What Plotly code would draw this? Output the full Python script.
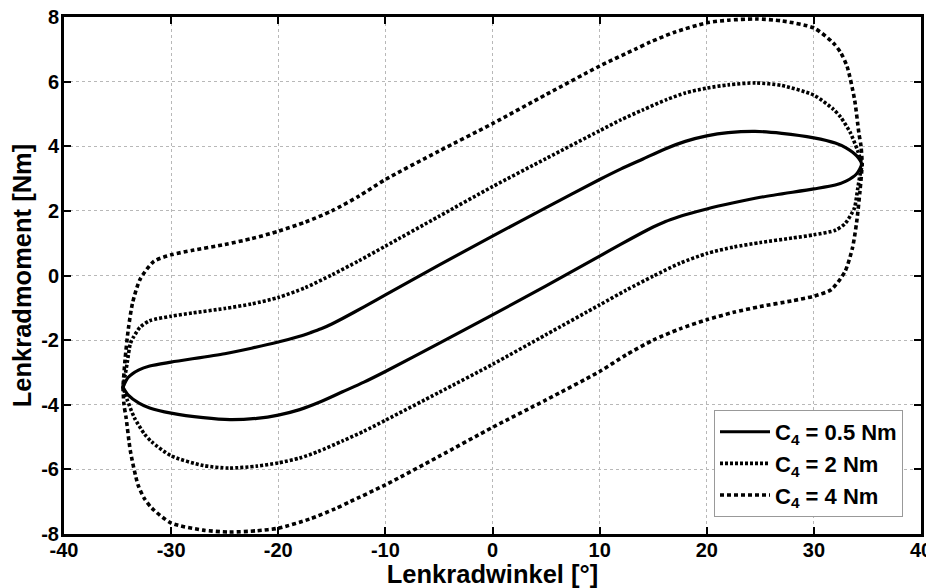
import plotly.graph_objects as go

# C4 = 0.5 Nm : upper branch (right tip -> left tip), lower branch (left tip -> right tip)
c05_up_x = [34.45, 34.0, 33.0, 32.0, 30, 27, 24.5, 22, 20, 18, 16, 14, 12, 10, 5, 0, -5, -10, -12, -14, -15, -16, -17, -18, -20, -22.5, -25, -30, -32, -33, -34, -34.5]
c05_up_y = [3.45, 3.7, 3.95, 4.1, 4.26, 4.4, 4.46, 4.42, 4.32, 4.15, 3.9, 3.6, 3.3, 2.97, 2.1, 1.22, 0.32, -0.6, -0.97, -1.33, -1.5, -1.65, -1.77, -1.88, -2.06, -2.25, -2.42, -2.68, -2.8, -2.92, -3.15, -3.46]
c05_lo_x = [-34.5, -34.0, -33.0, -32.0, -30, -27, -24.5, -22, -20, -18, -16, -14, -12, -10, -5, 0, 5, 10, 12, 14, 15, 16, 17, 18, 20, 22.5, 25, 30, 32, 33, 34, 34.45]
c05_lo_y = [-3.46, -3.7, -3.95, -4.1, -4.26, -4.4, -4.46, -4.42, -4.32, -4.15, -3.9, -3.6, -3.3, -2.97, -2.1, -1.22, -0.32, 0.6, 0.97, 1.33, 1.5, 1.65, 1.77, 1.88, 2.06, 2.25, 2.42, 2.68, 2.8, 2.92, 3.15, 3.45]

# C4 = 2 Nm
c2_up_x = [34.5, 34.3, 34.1, 33.4, 32.5, 31.8, 30, 27, 24.6, 22, 20, 18, 16.3, 14, 12, 10, 5, 0, -5, -10, -12.5, -15, -17.5, -20, -22.5, -25, -28, -30, -32, -32.9, -33.5, -33.8, -34.1, -34.3, -34.5]
c2_up_y = [3.45, 3.65, 3.85, 4.42, 4.9, 5.15, 5.58, 5.88, 5.96, 5.9, 5.8, 5.65, 5.45, 5.12, 4.82, 4.48, 3.62, 2.75, 1.83, 0.91, 0.45, 0.02, -0.38, -0.68, -0.88, -1.02, -1.16, -1.26, -1.4, -1.6, -1.9, -2.1, -2.7, -3.1, -3.46]
c2_lo_x = [-34.5, -34.3, -34.1, -33.4, -32.5, -31.8, -30, -27, -24.6, -22, -20, -18, -16.3, -14, -12, -10, -5, 0, 5, 10, 12.5, 15, 17.5, 20, 22.5, 25, 28, 30, 32, 32.9, 33.5, 33.8, 34.1, 34.3, 34.5]
c2_lo_y = [-3.46, -3.65, -3.85, -4.42, -4.9, -5.15, -5.58, -5.88, -5.96, -5.9, -5.8, -5.65, -5.45, -5.12, -4.82, -4.48, -3.62, -2.75, -1.83, -0.91, -0.45, -0.02, 0.38, 0.68, 0.88, 1.02, 1.16, 1.26, 1.4, 1.6, 1.9, 2.1, 2.7, 3.1, 3.45]

# C4 = 4 Nm
c4_up_x = [34.5, 34.4, 34.2, 33.8, 33.1, 32.5, 31.8, 30, 27, 24.6, 22, 20, 17, 14.7, 13.3, 10, 5, 0, -5, -10, -12.5, -15, -17.5, -20, -22.5, -25, -28, -30, -31.6, -32.9, -33.6, -34.0, -34.3, -34.5]
c4_up_y = [3.45, 4.0, 4.41, 5.44, 6.47, 6.9, 7.2, 7.66, 7.88, 7.94, 7.9, 7.82, 7.53, 7.22, 7.0, 6.48, 5.6, 4.7, 3.85, 2.97, 2.45, 2.0, 1.65, 1.37, 1.14, 0.96, 0.78, 0.64, 0.44, -0.12, -0.85, -1.67, -2.6, -3.46]
c4_lo_x = [-34.5, -34.4, -34.2, -33.8, -33.1, -32.5, -31.8, -30, -27, -24.6, -22, -20, -17, -14.7, -13.3, -10, -5, 0, 5, 10, 12.5, 15, 17.5, 20, 22.5, 25, 28, 30, 31.6, 32.9, 33.6, 34.0, 34.3, 34.5]
c4_lo_y = [-3.46, -4.0, -4.41, -5.44, -6.47, -6.9, -7.2, -7.66, -7.88, -7.94, -7.9, -7.82, -7.53, -7.22, -7.0, -6.48, -5.6, -4.7, -3.85, -2.97, -2.45, -2.0, -1.65, -1.37, -1.14, -0.96, -0.78, -0.64, -0.44, 0.12, 0.85, 1.67, 2.6, 3.45]

x_ticks = [-40, -30, -20, -10, 0, 10, 20, 30, 40]
y_ticks = [-8, -6, -4, -2, 0, 2, 4, 6, 8]

FONT = "Liberation Sans"

fig = go.Figure()
fig.add_trace(go.Scatter(
    x=c05_up_x + c05_lo_x, y=c05_up_y + c05_lo_y, mode="lines",
    line=dict(color="black", width=3.2, shape="spline", smoothing=0.7),
    name="C<sub>4</sub> = 0.5 Nm"))
fig.add_trace(go.Scatter(
    x=c2_up_x + c2_lo_x, y=c2_up_y + c2_lo_y, mode="lines",
    line=dict(color="black", width=3.6, dash="3px,2px", shape="spline", smoothing=0.7),
    name="C<sub>4</sub> = 2 Nm"))
fig.add_trace(go.Scatter(
    x=c4_up_x + c4_lo_x, y=c4_up_y + c4_lo_y, mode="lines",
    line=dict(color="black", width=3.6, dash="4px,3px", shape="spline", smoothing=0.7),
    name="C<sub>4</sub> = 4 Nm"))

axis_common = dict(
    showline=True, linecolor="black", linewidth=3, mirror="ticks",
    ticks="inside", ticklen=7, tickwidth=2, tickcolor="black",
    showgrid=True, gridcolor="#b8b8b8", gridwidth=1, griddash="dot",
    zeroline=False, automargin=False, ticklabeloverflow="allow",
    tickfont=dict(family=FONT, size=20, color="black", weight="bold"),
)

fig.update_xaxes(range=[-40, 40], tickvals=x_ticks, ticktext=[str(v) for v in x_ticks],
                 ticklabelstandoff=-4,
                 title=dict(text="Lenkradwinkel [°]", standoff=0,
                            font=dict(family=FONT, size=25.5, color="black", weight="bold")),
                 **axis_common)
fig.update_yaxes(range=[-8, 8], tickvals=y_ticks, ticktext=[str(v) for v in y_ticks],
                 ticklabelstandoff=-2,
                 title=dict(text="Lenkradmoment [Nm]", standoff=4,
                            font=dict(family=FONT, size=25.5, color="black", weight="bold")),
                 **axis_common)

# page body has an 8px default margin: figure is sized/placed to compensate
fig.update_layout(
    width=926, height=580,
    margin=dict(l=56, r=13, t=9, b=54, autoexpand=False),
    plot_bgcolor="white", paper_bgcolor="white",
    font=dict(family=FONT, color="black", weight="bold"),
    legend=dict(x=0.979, y=0.033, xanchor="right", yanchor="bottom",
                bgcolor="white", bordercolor="#999999", borderwidth=1,
                font=dict(family=FONT, size=22, color="black", weight="bold"),
                tracegroupgap=0, itemwidth=50),
    showlegend=True,
)

fig.write_html("out.html")
